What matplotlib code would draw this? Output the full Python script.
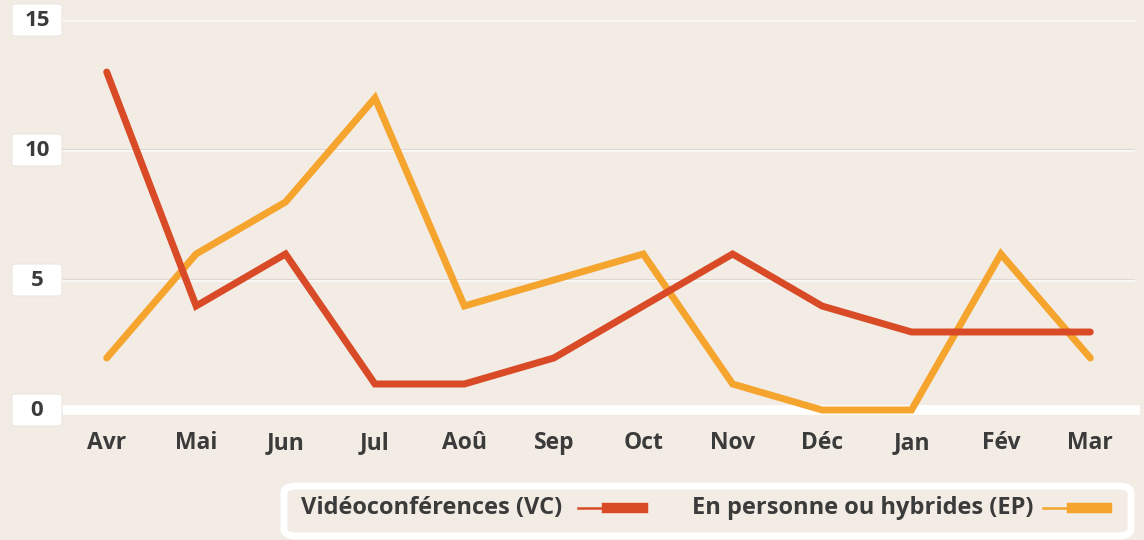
import matplotlib
matplotlib.use("Agg")
import matplotlib.pyplot as plt
from matplotlib.patches import FancyBboxPatch
from matplotlib.lines import Line2D

plt.rcParams["font.family"] = ["Open Sans", "DejaVu Sans"]

months = ["Avr", "Mai", "Jun", "Jul", "Aoû", "Sep", "Oct", "Nov", "Déc", "Jan", "Fév", "Mar"]
vc = [13, 4, 6, 1, 1, 2, 4, 6, 4, 3, 3, 3]
ep = [2, 6, 8, 12, 4, 5, 6, 1, 0, 0, 6, 2]
yticks = [0, 5, 10, 15]
series_names = ["Vidéoconférences (VC)", "En personne ou hybrides (EP)"]

bg = "#f3ece5"
red = "#d94a26"
orange = "#f5a42d"
txt = "#3b3b3b"

W, H = 1144, 540
fig = plt.figure(figsize=(W / 100, H / 100), dpi=100, facecolor=bg)
ax = fig.add_axes([62 / W, 1 - 410 / H, (1135 - 62) / W, (410 - 20) / H])
ax.set_facecolor(bg)
ax.set_xlim(-0.5, 11.5)
ax.set_ylim(0, 15)
for s in ax.spines.values():
    s.set_visible(False)

# grid lines
for v in yticks[1:]:
    ax.axhline(v, color="#ddd8d0", lw=2.2, zorder=1)
    ax.axhline(v - 0.04, color="white", lw=1.2, zorder=1)
ax.axhline(0, color="white", lw=7, zorder=1, clip_on=False)

x = list(range(len(months)))
ax.plot(x, ep, color=orange, lw=5, solid_capstyle="round", solid_joinstyle="miter", zorder=3, clip_on=False)
ax.plot(x, vc, color=red, lw=5, solid_capstyle="round", solid_joinstyle="miter", zorder=4, clip_on=False)

ax.set_xticks(x)
ax.set_xticklabels(months, fontsize=16.5, fontweight="bold", color=txt)
ax.tick_params(axis="x", length=0, pad=15)
ax.set_yticks([])

# boxed y labels
for v in yticks:
    yc = 1 - (410 - v * 26) / H
    box = FancyBboxPatch((12 / W, yc - 16 / H), 50 / W, 32 / H,
                         boxstyle="round,pad=0,rounding_size=0.004",
                         transform=fig.transFigure, facecolor="white",
                         edgecolor="#ebe6df", lw=0.8, zorder=5)
    fig.patches.append(box)
    fig.text(37 / W, yc, str(v), ha="center", va="center",
             fontsize=16, fontweight="bold", color=txt, zorder=6)

# legend
lb = FancyBboxPatch((284 / W, 1 - 536 / H), 847 / W, 50 / H,
                    boxstyle="round,pad=0,rounding_size=0.012",
                    transform=fig.transFigure, facecolor=bg,
                    edgecolor="white", lw=5)
fig.patches.append(lb)
ly = 1 - 508 / H
fig.text(301 / W, ly, series_names[0], ha="left", va="center",
         fontsize=17, fontweight="bold", color=txt)
fig.add_artist(Line2D([578 / W, 607 / W], [ly, ly], color=red, lw=1.8, transform=fig.transFigure))
fig.add_artist(Line2D([607 / W, 643 / W], [ly, ly], color=red, lw=7.5, transform=fig.transFigure))
fig.text(692 / W, ly, series_names[1], ha="left", va="center",
         fontsize=17, fontweight="bold", color=txt)
fig.add_artist(Line2D([1043 / W, 1072 / W], [ly, ly], color=orange, lw=1.8, transform=fig.transFigure))
fig.add_artist(Line2D([1072 / W, 1107 / W], [ly, ly], color=orange, lw=7.5, transform=fig.transFigure))

fig.savefig("out.png", dpi=100, facecolor=bg)
